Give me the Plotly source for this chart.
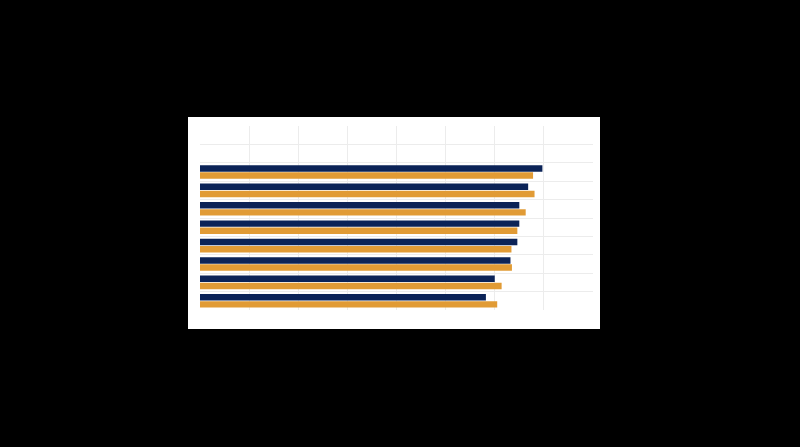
import plotly.graph_objects as go

categories = ["A", "B", "C", "D", "E", "F", "G", "H", "I", "J"]
series_navy = [None, None, 69.7, 66.8, 65.0, 65.0, 64.6, 63.2, 60.0, 58.2]
series_orange = [None, None, 67.8, 68.1, 66.3, 64.6, 63.4, 63.5, 61.4, 60.5]
x_ticks = [0, 10, 20, 30, 40, 50, 60, 70, 80]

fig = go.Figure()
fig.add_trace(go.Bar(y=categories, x=series_navy, orientation="h",
                     marker=dict(color="#0b2357", line=dict(width=0)), name="navy"))
fig.add_trace(go.Bar(y=categories, x=series_orange, orientation="h",
                     marker=dict(color="#e19b35", line=dict(width=0)), name="orange"))

fig.update_layout(
    width=800, height=447,
    paper_bgcolor="black",
    plot_bgcolor="#f8f8f8",
    barmode="group",
    bargap=0.22,
    bargroupgap=0.1,
    showlegend=False,
    margin=dict(l=200, r=207, t=126, b=137, pad=0),
    shapes=[dict(type="rect", xref="paper", yref="paper", layer="below",
                 x0=-12/393, x1=1 + 7/393, y0=-19/184, y1=1 + 9/184,
                 fillcolor="white", line=dict(width=0))],
)
fig.update_xaxes(range=[0, 80], tickvals=x_ticks, showticklabels=False,
                 showgrid=True, gridcolor="#ececec", gridwidth=1, zeroline=False,
                 showline=False, ticks="")
fig.update_yaxes(type="category", autorange="reversed", tickson="boundaries",
                 showticklabels=False, showgrid=True, gridcolor="#ececec",
                 gridwidth=1, zeroline=False, showline=False, ticks="")

fig.write_html("out.html",
               config={"displayModeBar": False},
               post_script="document.body.style.margin='0';"
                           "document.body.style.background='black';"
                           "document.body.style.overflow='hidden';")
